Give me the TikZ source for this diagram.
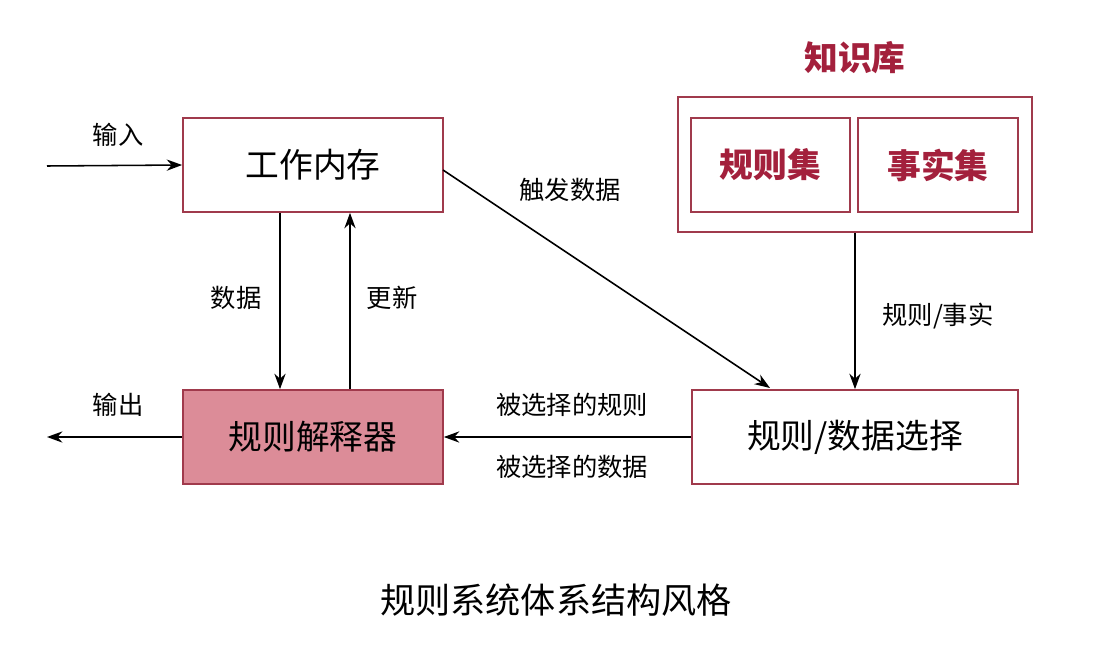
\documentclass[tikz,border=0pt]{standalone}
\usepackage{fontspec}
\setmainfont{Noto Sans CJK SC}
\usetikzlibrary{arrows.meta}
\definecolor{bord}{HTML}{A03A4C}
\definecolor{kred}{HTML}{A3203C}
\definecolor{pinkf}{HTML}{DC8C98}
\begin{document}
\begin{tikzpicture}[x=0.025cm,y=-0.025cm,
  box/.style={draw=bord,line width=1.2pt,minimum width=#1*0.025cm,minimum height=94*0.025cm,inner sep=0pt,font=\fontsize{24}{28}\selectfont},
  lab/.style={font=\fontsize{18}{22}\selectfont},
  arr/.style={-{Stealth[length=11pt,width=8pt]},line width=1.1pt}]
\useasboundingbox (0,0) rectangle (1112,664);
\node[box=260] (wm) at (313,165) {工作内存};
\node[box=260,fill=pinkf] (ri) at (313,437) {规则解释器};
\node[box=326] (sel) at (855,437) {规则/数据选择};
\node[draw=bord,line width=1.2pt,minimum width=354*0.025cm,minimum height=135*0.025cm] (kb) at (855,164.5) {};
\node[box=159,text=kred,font=\bfseries\fontsize{24}{28}\selectfont] (rs) at (770.5,165) {规则集};
\node[box=160,text=kred,font=\bfseries\fontsize{24}{28}\selectfont] (fs) at (938,165) {事实集};
\node[text=kred,font=\bfseries\fontsize{24}{28}\selectfont] (kbt) at (855,58) {知识库};
\node[font=\fontsize{25}{30}\selectfont] (title) at (556,600) {规则系统体系结构风格};
\coordinate (in) at (47,166);
\coordinate (out) at (47,437);
\draw[arr] (in) -- (wm.west);
\node[lab] (lin) at (118,135) {输入};
\draw[arr] (wm.south -| 280,0) -- (ri.north -| 280,0);
\node[lab] (ld) at (236,298) {数据};
\draw[arr] (ri.north -| 350,0) -- (wm.south -| 350,0);
\node[lab] (lu) at (392,298) {更新};
\coordinate (tgt) at (770,388);
\draw[arr] (443,170) -- (tgt);
\node[lab] (lt) at (570,190) {触发数据};
\draw[arr] (kb.south) -- (sel.north);
\node[lab] (lrf) at (938,316) {规则/事实};
\draw[arr] (sel.west) -- (ri.east);
\node[lab] (ls1) at (572,405) {被选择的规则};
\node[lab] (ls2) at (572,467) {被选择的数据};
\draw[arr] (ri.west) -- (out);
\node[lab] (lo) at (118,405) {输出};
\end{tikzpicture}
\end{document}
